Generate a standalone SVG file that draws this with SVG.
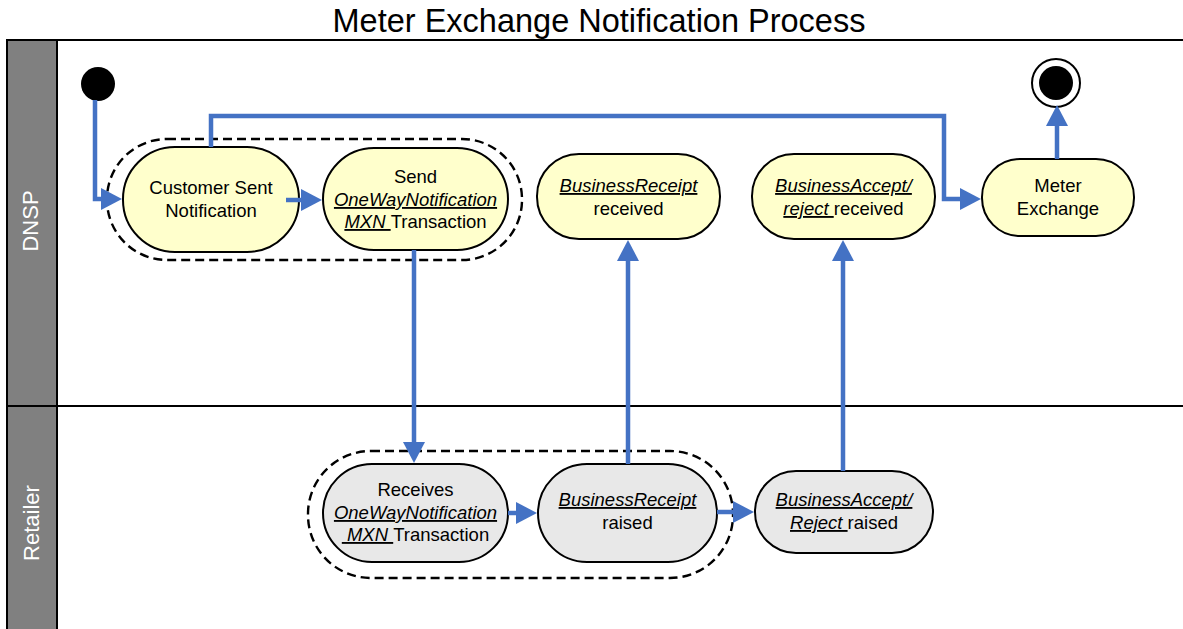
<svg xmlns="http://www.w3.org/2000/svg" width="1183" height="629" viewBox="0 0 1183 629">
<style>
.node text, .t { font-family: "Liberation Sans", Arial, sans-serif; font-size: 18.5px; fill: #000; text-anchor: middle; }
.yel { fill: #FFFFCC; stroke: #000; stroke-width: 2; }
.gry { fill: #E8E8E8; stroke: #000; stroke-width: 2; }
.grp { fill: none; stroke: #000; stroke-width: 2.4; stroke-dasharray: 9 5; }
.u { font-style: italic; text-decoration: underline; }
.conn path { fill: none; stroke: #4472C4; stroke-width: 4.5; stroke-linejoin: miter; marker-end: url(#arr); }
.lane { font-family: "Liberation Sans", Arial, sans-serif; font-size: 22px; fill: #fff; text-anchor: middle; }
.frame { stroke: #000; stroke-width: 2; fill: none; }
</style>
<defs>
<marker id="arr" markerUnits="userSpaceOnUse" markerWidth="21" markerHeight="22" refX="11" refY="11" orient="auto">
<path d="M0,0 L21,11 L0,22 z" fill="#4472C4"/>
</marker>
</defs>
<rect x="0" y="0" width="1183" height="629" fill="#fff"/>
<text x="599" y="32" font-family="Liberation Sans, Arial, sans-serif" font-size="32.5" text-anchor="middle">Meter Exchange Notification Process</text>
<g id="lanes">
<rect x="7" y="40" width="50" height="600" fill="#808080"/>
<path class="frame" d="M7,629 V40 H1183 M57,40 V629 M7,406 H1183"/>
<text class="lane" transform="translate(37.5,221) rotate(-90)">DNSP</text>
<text class="lane" transform="translate(38.5,523) rotate(-90)">Retailer</text>
</g>
<g id="group-dnsp"><rect class="grp" x="107" y="139" width="415" height="121" rx="60" ry="60"/></g>
<g id="group-retailer"><rect class="grp" x="308" y="451" width="425" height="127" rx="63" ry="63"/></g>
<g id="start"><circle cx="98" cy="84" r="17" fill="#000"/></g>
<g id="end"><circle cx="1056" cy="83" r="24" fill="#fff" stroke="#000" stroke-width="2"/><circle cx="1056" cy="83" r="17" fill="#000"/></g>
<g id="customer-sent" class="node">
<rect class="yel" x="123" y="147" width="176" height="105" rx="52" ry="52"/>
<text x="211" y="194">Customer Sent</text>
<text x="211" y="217">Notification</text>
</g>
<g id="send" class="node">
<rect class="yel" x="323" y="148" width="185" height="102" rx="51" ry="51"/>
<text x="415.5" y="183">Send</text>
<text x="415.5" y="206"><tspan class="u">OneWayNotification</tspan></text>
<text x="415.5" y="228" xml:space="preserve"><tspan class="u">MXN </tspan>Transaction</text>
</g>
<g id="br-received" class="node">
<rect class="yel" x="537" y="154" width="183" height="85" rx="42" ry="42"/>
<text x="628.5" y="192"><tspan class="u">BusinessReceipt</tspan></text>
<text x="628.5" y="215">received</text>
</g>
<g id="ba-received" class="node">
<rect class="yel" x="752" y="154" width="183" height="85" rx="42" ry="42"/>
<text x="843.5" y="192"><tspan class="u">BusinessAccept/</tspan></text>
<text x="843.5" y="215" xml:space="preserve"><tspan class="u">reject </tspan>received</text>
</g>
<g id="meter-exchange" class="node">
<rect class="yel" x="982" y="159" width="152" height="77" rx="38" ry="38"/>
<text x="1058" y="192">Meter</text>
<text x="1058" y="215">Exchange</text>
</g>
<g id="receives" class="node">
<rect class="gry" x="323" y="464" width="185" height="98" rx="49" ry="49"/>
<text x="415.5" y="496">Receives</text>
<text x="415.5" y="519"><tspan class="u">OneWayNotification</tspan></text>
<text x="415.5" y="541" xml:space="preserve"><tspan class="u"> MXN </tspan>Transaction</text>
</g>
<g id="br-raised" class="node">
<rect class="gry" x="538" y="464" width="179" height="98" rx="49" ry="49"/>
<text x="627.5" y="506"><tspan class="u">BusinessReceipt</tspan></text>
<text x="627.5" y="529">raised</text>
</g>
<g id="ba-raised" class="node">
<rect class="gry" x="755" y="471" width="178" height="82" rx="41" ry="41"/>
<text x="844" y="506"><tspan class="u">BusinessAccept/</tspan></text>
<text x="844" y="529" xml:space="preserve"><tspan class="u">Reject </tspan>raised</text>
</g>
<g id="connectors" class="conn">
<path d="M95,100 V199 H112"/>
<path d="M286,200 H312"/>
<path d="M211,147 V116 H944 V199 H971"/>
<path d="M1057,159 V115"/>
<path d="M414,250 V453"/>
<path d="M508,513 H527"/>
<path d="M628,464 V250"/>
<path d="M717,512 H744"/>
<path d="M843,471 V250"/>
</g>
</svg>
